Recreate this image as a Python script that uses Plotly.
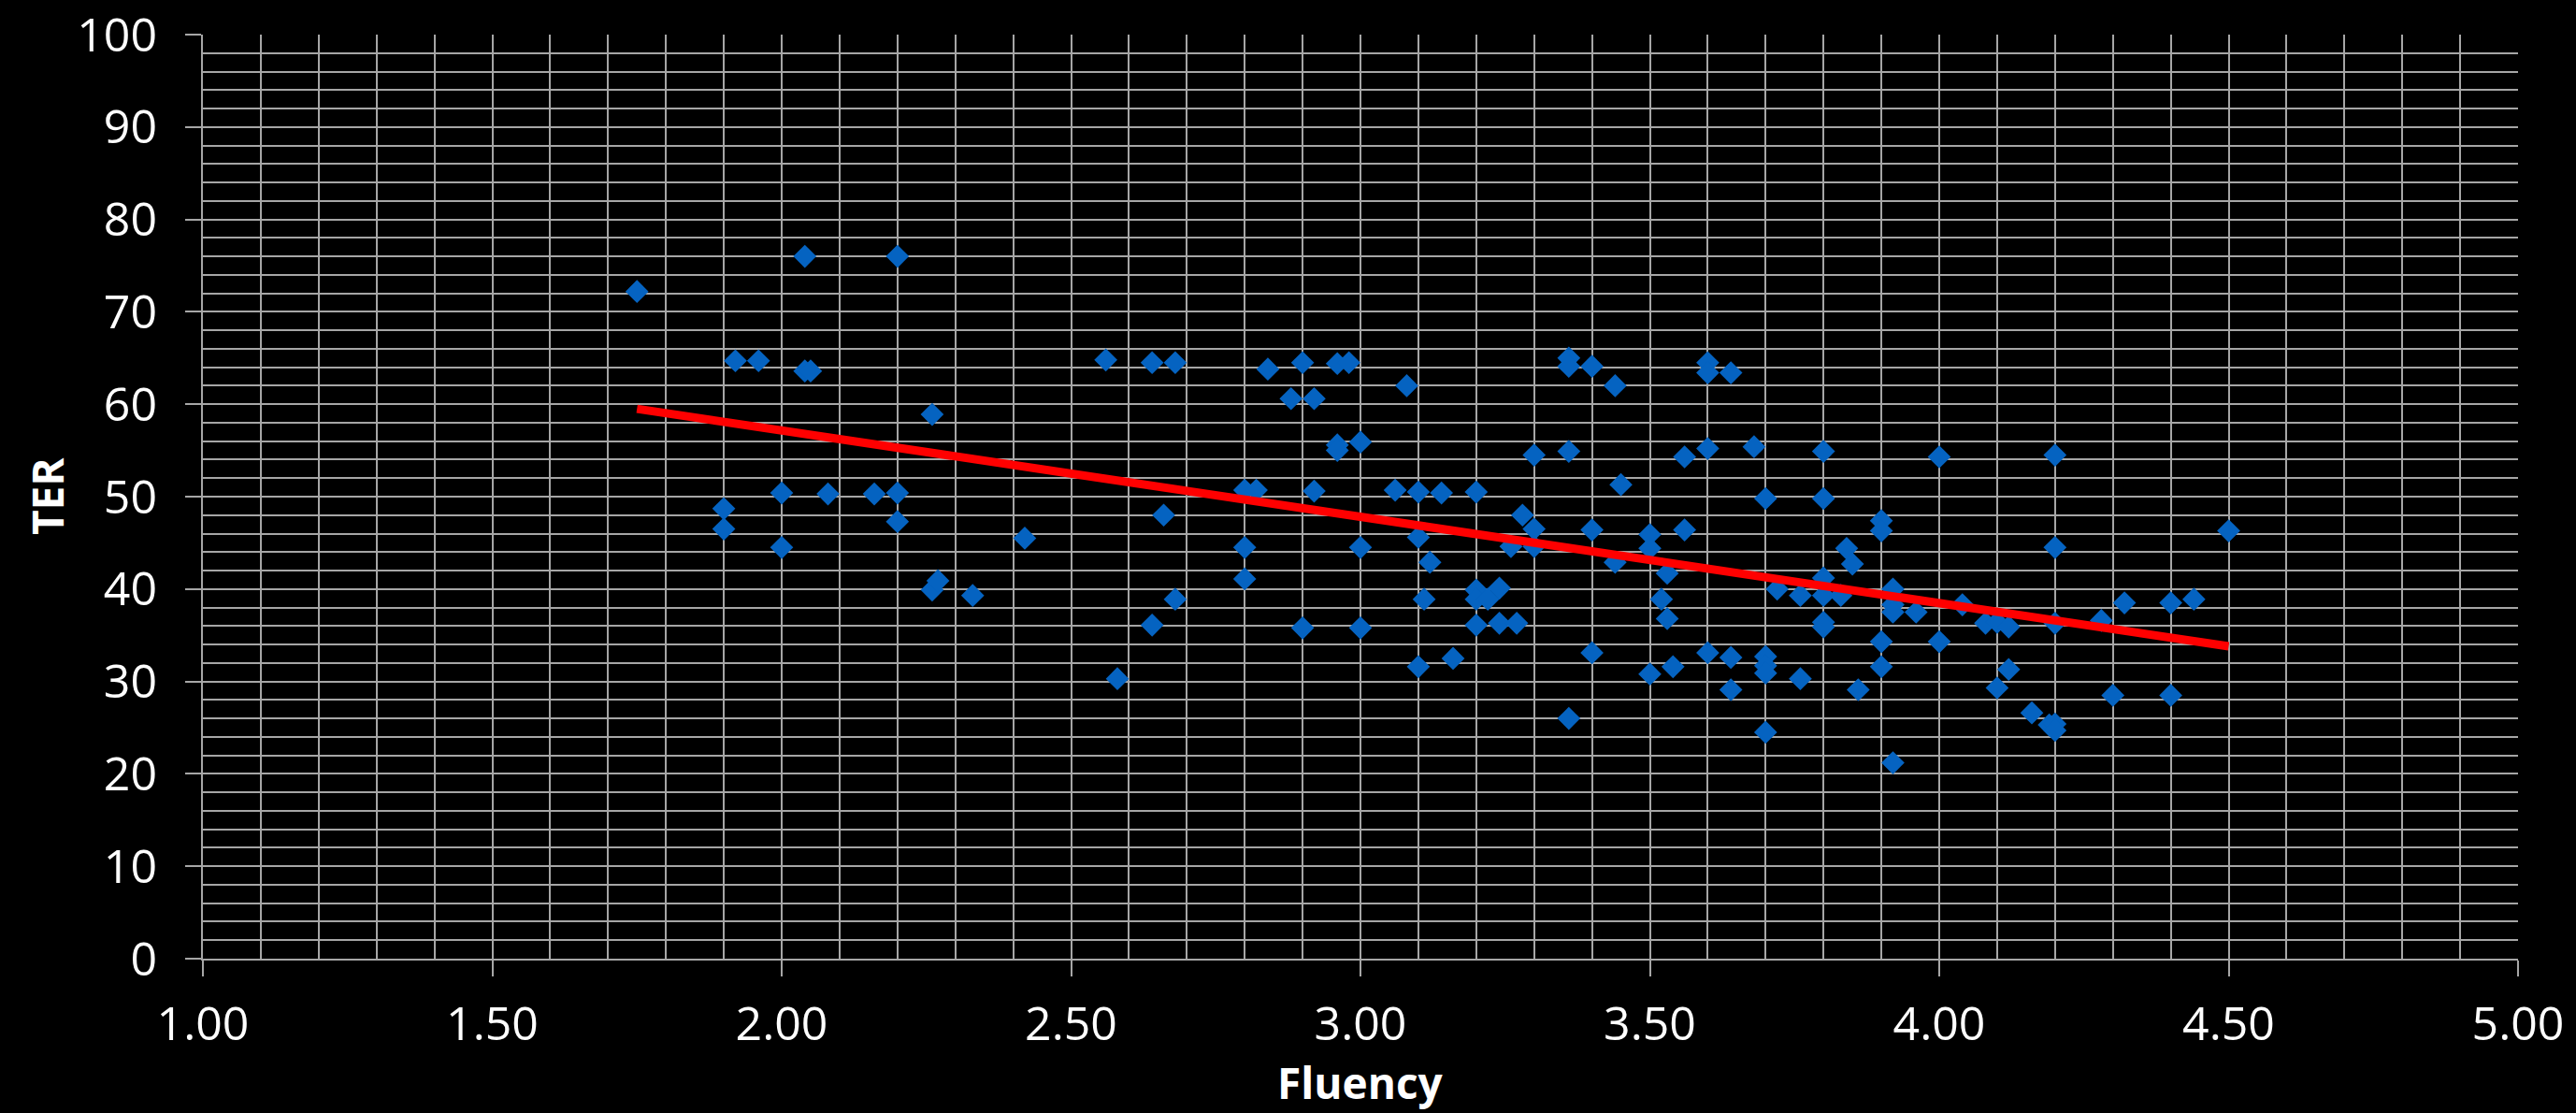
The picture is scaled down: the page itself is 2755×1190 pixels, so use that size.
import plotly.graph_objects as go

# Fluency (x) and TER (y) values
fluency = [
    1.75, 1.90, 1.90, 1.92, 1.96, 2.00, 2.00, 2.04, 2.04, 2.05, 2.08, 2.16, 2.20, 2.20, 2.20,
    2.26, 2.26, 2.27, 2.33, 2.42, 2.56, 2.58, 2.64, 2.64, 2.66, 2.68, 2.68, 2.80, 2.80, 2.80,
    2.82, 2.84, 2.88, 2.90, 2.90, 2.92, 2.92, 2.96, 2.96, 2.96, 2.98, 3.00, 3.00, 3.00, 3.06,
    3.08, 3.10, 3.10, 3.10, 3.11, 3.12, 3.14, 3.16, 3.20, 3.20, 3.20, 3.20, 3.22, 3.24, 3.24,
    3.26, 3.27, 3.28, 3.30, 3.30, 3.30, 3.36, 3.36, 3.36, 3.36, 3.40, 3.40, 3.40, 3.44, 3.44,
    3.45, 3.50, 3.50, 3.50, 3.52, 3.53, 3.53, 3.54, 3.56, 3.56, 3.60, 3.60, 3.60, 3.60, 3.64,
    3.64, 3.64, 3.68, 3.70, 3.70, 3.70, 3.70, 3.70, 3.72, 3.76, 3.76, 3.80, 3.80, 3.80, 3.80,
    3.80, 3.80, 3.83, 3.84, 3.85, 3.86, 3.90, 3.90, 3.90, 3.90, 3.92, 3.92, 3.92, 3.92, 3.96,
    4.00, 4.00, 4.04, 4.08, 4.10, 4.10, 4.12, 4.12, 4.16, 4.19, 4.20, 4.20, 4.20, 4.20, 4.20,
    4.28, 4.30, 4.32, 4.40, 4.40, 4.44, 4.50,
]
ter = [
    72.2, 48.7, 46.5, 64.7, 64.7, 50.4, 44.5, 76.0, 63.6, 63.6, 50.3, 50.3, 76.0, 50.4, 47.3,
    58.9, 39.9, 40.9, 39.3, 45.5, 64.8, 30.3, 64.5, 36.1, 48.0, 64.5, 38.9, 50.7, 44.5, 41.1,
    50.7, 63.8, 60.6, 64.5, 35.8, 60.6, 50.6, 64.4, 55.6, 55.0, 64.5, 55.9, 44.5, 35.8, 50.7,
    62.0, 50.5, 45.6, 31.6, 38.9, 42.9, 50.4, 32.5, 50.5, 39.9, 38.9, 36.1, 38.9, 40.1, 36.3,
    44.6, 36.3, 48.0, 54.5, 46.5, 44.6, 65.0, 64.1, 54.9, 26.0, 64.1, 46.4, 33.1, 62.0, 42.9,
    51.3, 45.9, 44.4, 30.8, 38.9, 41.7, 36.8, 31.6, 54.3, 46.4, 64.5, 63.4, 55.2, 33.1, 63.4,
    32.6, 29.1, 55.4, 49.8, 32.7, 31.7, 30.9, 24.5, 40.0, 39.3, 30.3, 54.9, 49.8, 41.2, 39.3,
    36.4, 35.9, 39.3, 44.4, 42.7, 29.1, 47.4, 46.3, 34.3, 31.6, 40.0, 38.3, 37.5, 21.2, 37.5,
    54.3, 34.3, 38.3, 36.3, 36.4, 29.3, 35.9, 31.3, 26.6, 25.3, 54.5, 44.5, 36.3, 25.4, 24.7,
    36.6, 28.5, 38.5, 38.5, 28.5, 38.9, 46.3,
]

# Linear trend line endpoints
trend_x = [1.75, 4.50]
trend_y = [59.5, 33.8]

x_ticks = [1.0, 1.5, 2.0, 2.5, 3.0, 3.5, 4.0, 4.5, 5.0]
x_tick_text = ["1.00", "1.50", "2.00", "2.50", "3.00", "3.50", "4.00", "4.50", "5.00"]
y_ticks = [0, 10, 20, 30, 40, 50, 60, 70, 80, 90, 100]

GRID = "#a6a6a6"
FONT = "Open Sans, Noto Sans, DejaVu Sans, sans-serif"

fig = go.Figure()
fig.add_trace(go.Scatter(
    x=fluency, y=ter, mode="markers",
    marker=dict(symbol="diamond", size=19, color="#0563c1", line=dict(width=0)),
    showlegend=False, cliponaxis=False,
))
fig.add_trace(go.Scatter(
    x=trend_x, y=trend_y, mode="lines",
    line=dict(color="#ff0000", width=9),
    showlegend=False,
))

fig.update_layout(
    width=2755, height=1190,
    paper_bgcolor="black", plot_bgcolor="black",
    margin=dict(l=217, r=62, t=37, b=165, autoexpand=False),
    font=dict(family=FONT, color="white", size=50),
    annotations=[
        dict(text="<b>Fluency</b>", xref="paper", yref="paper", x=0.5, y=-0.134,
             xanchor="center", yanchor="middle", showarrow=False,
             font=dict(family=FONT, size=46, color="white")),
        dict(text="<b>TER</b>", xref="paper", yref="paper", x=-0.0674, y=0.5,
             xanchor="center", yanchor="middle", showarrow=False, textangle=-90,
             font=dict(family=FONT, size=46, color="white")),
    ],
)
fig.update_xaxes(
    range=[1, 5], tickvals=x_ticks, ticktext=x_tick_text, automargin=False,
    showgrid=True, gridcolor=GRID, gridwidth=2,
    minor=dict(dtick=0.1, showgrid=True, gridcolor=GRID, gridwidth=2, ticks=""),
    ticks="outside", ticklen=17, tickwidth=2, tickcolor=GRID,
    showline=True, linecolor=GRID, linewidth=2, mirror=False,
    zeroline=False, ticklabelstandoff=8,
    tickfont=dict(family=FONT, size=50, color="white"),
)
fig.update_yaxes(
    range=[0, 100], tickvals=y_ticks, automargin=False,
    showgrid=True, gridcolor=GRID, gridwidth=2,
    minor=dict(dtick=2, showgrid=True, gridcolor=GRID, gridwidth=2, ticks=""),
    ticks="outside", ticklen=17, tickwidth=2, tickcolor=GRID,
    showline=True, linecolor=GRID, linewidth=2,
    zeroline=False, ticklabelstandoff=20,
    tickfont=dict(family=FONT, size=50, color="white"),
)

fig.write_html(
    "out.html",
    config={"displayModeBar": False},
    post_script="document.body.style.margin='0';document.body.style.background='black';",
)
